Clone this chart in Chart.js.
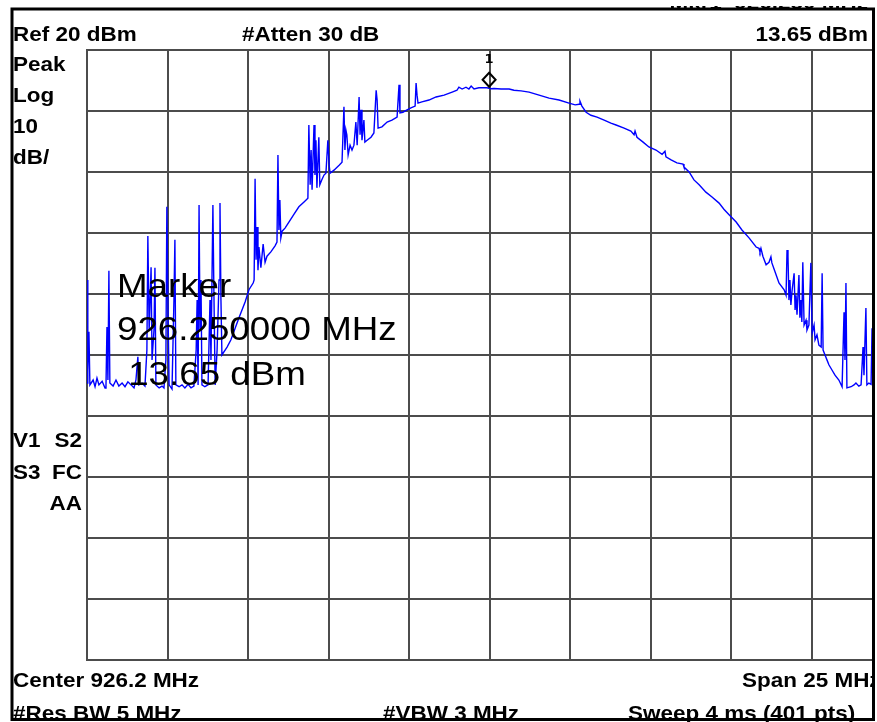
<!DOCTYPE html>
<html lang="en">
<head>
<meta charset="UTF-8">
<title>Spectrum trace</title>
<script src="https://cdn.jsdelivr.net/npm/chart.js@4.4.0/dist/chart.umd.min.js"></script>
<style>
    html, body { margin: 0; padding: 0; background: #fff; }
    #wrap { width: 877px; height: 722px; overflow: hidden; position: relative; background: #fff; }
    #trace { display: block; }
</style>
</head>
<body>
<div id="wrap"><canvas id="trace" width="900" height="722"></canvas></div>
<script>
// sweep: frequency (MHz) and level (dBm)
const freqMHz = [
    913.70, 913.72, 913.73, 913.76, 913.79, 913.89, 913.95, 914.01, 914.07, 914.17,
    914.26, 914.29, 914.32, 914.35, 914.38, 914.41, 914.51, 914.60, 914.69, 914.79,
    914.88, 914.97, 915.07, 915.16, 915.22, 915.28, 915.31, 915.41, 915.50, 915.56,
    915.59, 915.63, 915.66, 915.69, 915.72, 915.78, 915.81, 915.84, 915.94, 916.03,
    916.09, 916.15, 916.18, 916.22, 916.25, 916.34, 916.40, 916.43, 916.46, 916.56,
    916.65, 916.74, 916.84, 916.93, 917.02, 917.09, 917.12, 917.15, 917.18, 917.21,
    917.24, 917.27, 917.36, 917.46, 917.52, 917.55, 917.61, 917.64, 917.68, 917.74,
    917.80, 917.83, 917.86, 917.89, 918.05, 918.17, 918.42, 918.61, 918.73, 918.86,
    918.89, 918.92, 918.95, 918.98, 919.01, 919.04, 919.10, 919.17, 919.23, 919.29,
    919.41, 919.54, 919.60, 919.63, 919.66, 919.69, 919.72, 919.76, 919.85, 919.97,
    920.13, 920.28, 920.44, 920.56, 920.59, 920.63, 920.66, 920.69, 920.75, 920.78,
    920.81, 920.84, 920.90, 920.93, 920.99, 921.06, 921.12, 921.18, 921.22, 921.25,
    921.37, 921.53, 921.62, 921.68, 921.71, 921.74, 921.77, 921.81, 921.87, 921.93,
    921.99, 922.05, 922.09, 922.15, 922.18, 922.21, 922.24, 922.30, 922.33, 922.40,
    922.52, 922.61, 922.68, 922.71, 922.74, 922.86, 923.02, 923.17, 923.33, 923.39,
    923.42, 923.51, 923.64, 923.76, 923.89, 923.92, 923.95, 923.98, 924.10, 924.32,
    924.54, 924.79, 925.04, 925.19, 925.25, 925.35, 925.47, 925.56, 925.63, 925.72,
    925.87, 926.12, 926.25, 926.34, 926.56, 926.81, 926.96, 927.18, 927.43, 927.74,
    928.05, 928.36, 928.67, 928.86, 928.98, 929.01, 929.07, 929.20, 929.35, 929.54,
    929.76, 929.97, 930.13, 930.38, 930.59, 930.69, 930.72, 930.78, 930.97, 931.15,
    931.37, 931.56, 931.65, 931.68, 931.84, 932.02, 932.21, 932.24, 932.40, 932.55,
    932.71, 932.92, 933.11, 933.33, 933.48, 933.64, 933.86, 934.04, 934.26, 934.48,
    934.57, 934.60, 934.63, 934.69, 934.79, 934.88, 934.94, 934.97, 935.07, 935.19,
    935.35, 935.41, 935.44, 935.47, 935.50, 935.53, 935.56, 935.60, 935.66, 935.69,
    935.72, 935.75, 935.81, 935.84, 935.87, 935.90, 935.93, 935.97, 936.03, 936.06,
    936.12, 936.18, 936.22, 936.28, 936.31, 936.37, 936.43, 936.50, 936.53, 936.56,
    936.62, 936.68, 936.74, 936.84, 936.93, 937.05, 937.15, 937.21, 937.24, 937.27,
    937.30, 937.43, 937.52, 937.58, 937.67, 937.74, 937.80, 937.83, 937.89, 937.92,
    937.98, 938.05, 938.08, 938.11, 938.40, 938.70
];
const levelDbm = [
    -34.6, -17.7, -32.5, -26.2, -34.9, -34.1, -35.2, -33.8, -34.9, -34.3,
    -35.4, -34.9, -25.4, -34.1, -16.2, -34.6, -35.1, -34.1, -35.1, -34.6,
    -35.2, -34.4, -34.9, -35.4, -34.1, -30.3, -34.9, -34.6, -35.1, -29.2,
    -10.5, -25.9, -21.0, -15.6, -30.8, -25.9, -15.7, -34.9, -35.4, -35.1,
    -35.4, -30.8, -5.7, -24.3, -34.9, -35.6, -21.0, -11.1, -34.9, -35.2,
    -34.9, -35.4, -34.8, -35.4, -35.1, -29.2, -21.0, -34.9, -5.4, -25.9,
    -17.7, -34.9, -35.2, -34.9, -21.0, -30.8, -5.4, -19.3, -34.9, -29.2,
    -17.7, -5.1, -21.0, -30.0, -28.7, -27.5, -23.9, -21.3, -19.3, -18.2,
    -17.7, -1.1, -14.4, -9.0, -16.1, -12.3, -15.7, -11.8, -14.8, -13.8,
    -13.1, -12.1, -11.5, 2.8, -9.5, -4.6, -10.8, -9.7, -9.2, -8.2,
    -6.9, -5.7, -4.9, -4.3, 7.7, -2.1, 3.6, -2.9, 7.7, -0.5,
    5.2, -2.6, 5.7, -2.1, -1.3, -0.5, -0.2, 5.2, 1.1, -0.2,
    0.3, 1.1, 1.6, 10.7, 3.6, 6.9, 6.1, 2.8, 4.4, 3.6,
    4.4, 8.2, 4.4, 12.3, 6.1, 10.2, 5.2, 8.5, 4.9, 5.2,
    5.7, 6.4, 13.4, 11.8, 7.2, 7.4, 8.2, 8.5, 9.0, 14.3,
    9.7, 9.8, 10.2, 10.5, 10.8, 14.6, 12.6, 11.3, 11.5, 11.8,
    12.3, 12.6, 13.1, 13.4, 13.9, 13.6, 13.9, 13.6, 14.1, 13.6,
    13.8, 13.8, 13.65, 13.7, 13.6, 13.6, 13.4, 13.3, 13.1, 12.6,
    12.1, 11.8, 11.3, 11.0, 11.1, 11.6, 10.8, 9.8, 9.3, 9.0,
    8.5, 8.0, 7.7, 7.2, 6.7, 6.1, 6.7, 5.7, 4.9, 4.1,
    3.6, 2.9, 3.4, 2.5, 2.0, 1.5, 1.3, 0.8, 0.0, -1.3,
    -2.1, -3.3, -4.1, -5.1, -6.1, -7.0, -8.2, -9.5, -10.8, -12.3,
    -12.5, -13.1, -12.5, -13.8, -15.2, -14.8, -13.9, -14.9, -16.4, -18.2,
    -19.3, -20.2, -12.8, -13.9, -21.0, -17.7, -21.8, -19.3, -16.6, -22.6,
    -20.2, -23.4, -16.9, -23.9, -21.0, -24.6, -14.8, -25.1, -24.3, -25.9,
    -25.1, -14.9, -26.4, -25.1, -27.5, -26.7, -28.4, -28.7, -16.6, -29.2,
    -30.0, -30.8, -31.6, -32.5, -33.3, -34.1, -35.2, -23.0, -30.8, -18.2,
    -35.4, -35.2, -34.9, -34.6, -35.1, -34.9, -28.7, -33.3, -22.3, -34.9,
    -34.6, -34.8, -25.6, -34.9, -35.0, -34.8
];

// graticule: 10 divisions across 25 MHz span, 10 dB/div from Ref 20 dBm
const xDivs = [913.7, 916.2, 918.7, 921.2, 923.7, 926.2, 928.7, 931.2, 933.7, 936.2, 938.7];
const yDivs = [20, 10, 0, -10, -20, -30, -40, -50, -60, -70, -80];

const markerFreq = 926.25;
const markerLevel = 13.65;

const topLine = ['Ref 20 dBm', '#Atten 30 dB', '13.65 dBm'];
const sideTop = ['Peak', 'Log', '10', 'dB/'];
const sideBottom = [['V1', 'S2'], ['S3', 'FC'], ['', 'AA']];
const markerLines = ['Marker', '926.250000 MHz', ' 13.65 dBm'];
const footLine1 = ['Center 926.2 MHz', 'Span 25 MHz'];
const footLine2 = ['#Res BW 5 MHz', '#VBW 3 MHz', 'Sweep 4 ms (401 pts)'];

const BOLD = 'bold 21px "Liberation Sans", Arial, sans-serif';
const BIG = '34px "Liberation Sans", Arial, sans-serif';

function txt(ctx, s, x, y, font, sx, align) {
    ctx.save();
    ctx.font = font;
    ctx.textAlign = 'left';
    ctx.textBaseline = 'alphabetic';
    const w = ctx.measureText(s).width * sx;
    const left = align === 'right' ? x - w : (align === 'center' ? x - w / 2 : x);
    ctx.translate(left, y);
    ctx.scale(sx, 1);
    ctx.fillText(s, 0, 0);
    ctx.restore();
}

const screenText = {
    id: 'screenText',
    afterDraw(chart) {
        const ctx = chart.ctx;
        const xs = chart.scales.x, ys = chart.scales.y;
        ctx.save();
        ctx.fillStyle = '#000';

        // marker diamond just above the trace point
        const mx = xs.getPixelForValue(markerFreq) - 2;
        const my = ys.getPixelForValue(markerLevel);
        ctx.strokeStyle = '#000';
        ctx.lineWidth = 2;
        ctx.beginPath();
        ctx.moveTo(mx, my - 16);
        ctx.lineTo(mx + 6.5, my - 9);
        ctx.lineTo(mx, my - 2);
        ctx.lineTo(mx - 6.5, my - 9);
        ctx.closePath();
        ctx.stroke();
        txt(ctx, '1', mx, my - 26, 'bold 13px "DejaVu Sans", sans-serif', 1, 'center');

        // header (first a clipped remnant of the line above)
        ctx.save();
        ctx.beginPath();
        ctx.rect(600, 6, 300, 3);
        ctx.clip();
        txt(ctx, 'Mkr1  926.250 MHz', 868, 9, BOLD, 1.07, 'right');
        ctx.restore();
        txt(ctx, topLine[0], 13, 41, BOLD, 1.07);
        txt(ctx, topLine[1], 242, 41, BOLD, 1.07);
        txt(ctx, topLine[2], 868, 41, BOLD, 1.07, 'right');

        sideTop.forEach((s, i) => txt(ctx, s, 13, 71 + i * 31, BOLD, 1.07));
        sideBottom.forEach((row, i) => {
            if (row[0]) txt(ctx, row[0], 13, 447 + i * 31.5, BOLD, 1.07);
            txt(ctx, row[1], 82, 447 + i * 31.5, BOLD, 1.07, 'right');
        });

        txt(ctx, markerLines[0], 117, 297, BIG, 1.08);
        txt(ctx, markerLines[1], 117, 340, BIG, 1.08);
        txt(ctx, markerLines[2], 118, 385, BIG, 1.08);

        txt(ctx, footLine1[0], 13, 687, BOLD, 1.07);
        txt(ctx, footLine1[1], 742, 687, BOLD, 1.07);
        txt(ctx, footLine2[0], 13, 720, BOLD, 1.07);
        txt(ctx, footLine2[1], 383, 720, BOLD, 1.07);
        txt(ctx, footLine2[2], 628, 720, BOLD, 1.07);

        // screen edge
        ctx.fillStyle = '#fff';
        ctx.fillRect(875, 0, 30, 722);
        ctx.strokeStyle = '#000';
        ctx.lineWidth = 3;
        ctx.strokeRect(12, 9, 861.5, 710.5);
        ctx.restore();
    }
};

const points = freqMHz.map((f, i) => ({ x: f, y: levelDbm[i] }));

new Chart(document.getElementById('trace'), {
    type: 'line',
    data: {
        datasets: [{
            data: points,
            borderColor: 'rgb(0,0,255)',
            borderWidth: 1.4,
            pointRadius: 0,
            tension: 0,
            fill: false
        }]
    },
    options: {
        responsive: false,
        animation: false,
        events: [],
        layout: { padding: { left: 87, top: 50, right: 8, bottom: 62 } },
        plugins: { legend: { display: false }, tooltip: { enabled: false } },
        scales: {
            x: {
                type: 'linear',
                min: xDivs[0],
                max: xDivs[xDivs.length - 1],
                afterBuildTicks: s => { s.ticks = xDivs.map(v => ({ value: v })); },
                ticks: { display: false },
                grid: { color: '#4c4c4c', lineWidth: 2, drawTicks: false },
                border: { display: true, color: '#4c4c4c', width: 2 }
            },
            y: {
                min: yDivs[yDivs.length - 1],
                max: yDivs[0],
                afterBuildTicks: s => { s.ticks = yDivs.map(v => ({ value: v })); },
                ticks: { display: false },
                grid: { color: '#4c4c4c', lineWidth: 2, drawTicks: false },
                border: { display: true, color: '#4c4c4c', width: 2 }
            }
        }
    },
    plugins: [screenText]
});
</script>
</body>
</html>
